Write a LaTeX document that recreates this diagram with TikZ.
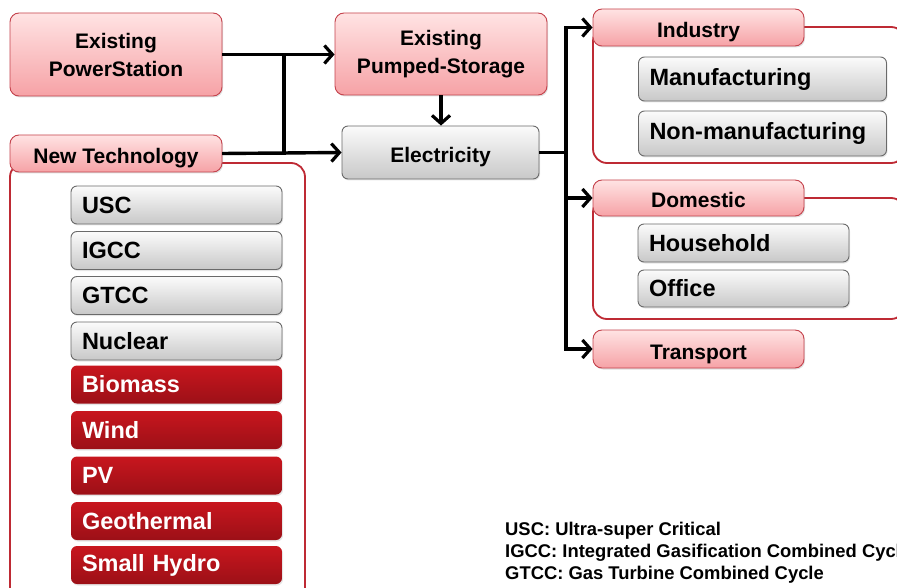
\documentclass[tikz,border=0pt]{standalone}
\usepackage{fontspec}
\setmainfont{Liberation Sans}
\usetikzlibrary{arrows.meta,shadows}

\definecolor{pinktop}{HTML}{FFE3E3}
\definecolor{pinkbot}{HTML}{F6A2A6}
\definecolor{pinkline}{HTML}{C4424C}
\definecolor{greytop}{HTML}{FBFBFB}
\definecolor{greybot}{HTML}{C8C8C8}
\definecolor{greyline}{HTML}{6A6A6A}
\definecolor{redtop}{HTML}{C8161E}
\definecolor{redbot}{HTML}{9C1017}
\definecolor{frameline}{HTML}{BE2A34}

\tikzset{
  pinkbox/.style={draw=pinkline, line width=0.9pt, rounded corners=9pt, top color=pinktop, bottom color=pinkbot,
    font=\fontsize{21}{28}\selectfont\bfseries, align=center, inner sep=0pt,
    drop shadow={opacity=0.25, shadow xshift=1pt, shadow yshift=-1.5pt}},
  header/.style={pinkbox, text height=20pt, text depth=0pt},
  greybox/.style={draw=greyline, line width=0.9pt, rounded corners=6pt, top color=greytop, bottom color=greybot,
    font=\fontsize{23.5}{28}\selectfont\bfseries, align=left, inner ysep=0pt, inner xsep=11pt,
    drop shadow={opacity=0.2, shadow xshift=1pt, shadow yshift=-1.5pt}},
  redbox/.style={greybox, draw=none, top color=redtop, bottom color=redbot, text=white},
  frame/.style={draw=frameline, line width=1.8pt, rounded corners=14pt},
  conn/.style={line width=3.4pt},
  arr/.style={conn, -{Straight Barb[length=8pt,width=18pt,line width=3.2pt]}},
  legend/.style={anchor=base west, inner sep=0pt, font=\fontsize{18.4}{20}\selectfont\bfseries}
}

\begin{document}
\begin{tikzpicture}[x=1pt,y=-1pt]
\useasboundingbox (0,0) rectangle (897,588);

% frames behind the group headers
\draw[frame] (10,163) rectangle (305,660);
\draw[frame] (593,27) rectangle (905,163);
\draw[frame] (593,198) rectangle (905,319);

% supply side
\node[pinkbox, minimum width=212pt, minimum height=83pt] (ps) at (116,54.5) {Existing\\PowerStation};
\node[pinkbox, minimum width=212pt, minimum height=82pt] (pump) at (441,54) {Existing\\Pumped-Storage};
\node[header, minimum width=212pt, minimum height=37pt] (newtech) at (116,153.5) {New Technology};
\node[greybox, align=center, inner xsep=0pt, font=\fontsize{21}{28}\selectfont\bfseries,
  text height=20pt, text depth=0pt, minimum width=197pt, minimum height=53pt] (elec) at (440.5,152.5) {Electricity};

% new technologies
\node[greybox, text width=189pt, minimum height=38pt] (usc) at (176.5,205) {USC};
\node[greybox, text width=189pt, minimum height=38pt] (igcc) at (176.5,250.5) {IGCC};
\node[greybox, text width=189pt, minimum height=38pt] (gtcc) at (176.5,295.5) {GTCC};
\node[greybox, text width=189pt, minimum height=38pt] (nuclear) at (176.5,341) {Nuclear};
\node[redbox, text width=189pt, minimum height=38pt] (biomass) at (176.5,384.5) {Biomass};
\node[redbox, text width=189pt, minimum height=38pt] (wind) at (176.5,430) {Wind};
\node[redbox, text width=189pt, minimum height=38pt] (pv) at (176.5,475.5) {PV};
\node[redbox, text width=189pt, minimum height=38pt] (geo) at (176.5,521) {Geothermal};
\node[redbox, text width=189pt, minimum height=38pt] (hydro) at (176.5,565) {Small Hydro};

% demand side
\node[header, minimum width=211pt, minimum height=37pt] (industry) at (698.5,27.5) {Industry};
\node[greybox, text width=226pt, minimum height=44pt] (manu) at (762.5,79) {Manufacturing};
\node[greybox, text width=226pt, minimum height=45pt] (nonmanu) at (762.5,133.5) {Non-manufacturing};
\node[header, minimum width=211pt, minimum height=36pt] (domestic) at (698.5,198) {Domestic};
\node[greybox, text width=189pt, minimum height=38pt] (household) at (743.5,243) {Household};
\node[greybox, text width=189pt, minimum height=37pt] (office) at (743.5,288.5) {Office};
\node[header, minimum width=211pt, minimum height=38pt] (transport) at (698.5,349) {Transport};

% connectors
\coordinate (splitL) at (284,54.5);
\coordinate (splitR) at (566,152.5);
\draw[arr] (ps.east |- splitL) -- (splitL) -- (pump.west |- splitL);
\draw[conn] (splitL) |- (newtech.east);
\draw[arr] (newtech.east) -- (elec.west);
\draw[arr] (pump.south) -- (pump.south |- elec.north);
\draw[arr] (elec.east) -- (splitR) |- (industry.west);
\draw[arr] (splitR) |- (domestic.west);
\draw[arr] (splitR) |- (transport.west);

% abbreviations
\node[legend] (lusc) at (505,535) {USC: Ultra-super Critical};
\node[legend] (ligcc) at (505,557) {IGCC: Integrated Gasification Combined Cycle};
\node[legend] (lgtcc) at (505,579) {GTCC: Gas Turbine Combined Cycle};
\end{tikzpicture}
\end{document}
